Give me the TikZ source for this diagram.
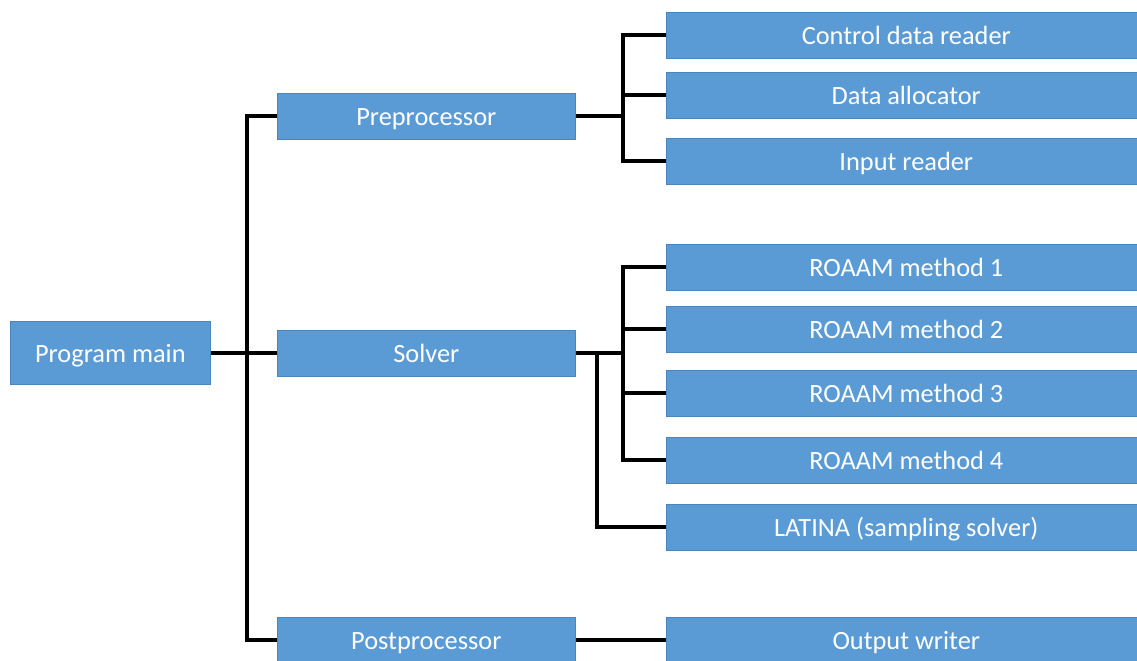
\documentclass[tikz,border=0pt]{standalone}
\usepackage{fontspec}
\setmainfont{Carlito}
\usetikzlibrary{positioning}
\definecolor{boxblue}{HTML}{5B9BD5}
\definecolor{boxline}{HTML}{4A86BE}
\tikzset{
    x=0.02cm, y=-0.02cm, % one unit is one pixel of the sketch
    block/.style={draw=boxline, fill=boxblue, text=white, inner sep=0pt, anchor=west,
        text height=11pt, text depth=0pt,
        font=\fontsize{15}{17}\selectfont}, % blue box with white text
    module/.style={block, minimum width=5.96cm, minimum height=0.92cm}, % second column
    routine/.style={block, minimum width=9.6cm, minimum height=0.92cm}, % third column
    link/.style={line width=2.2pt, black}, % the tree lines
}
\begin{document}
\begin{tikzpicture}
    \clip (0,0) rectangle (1137,660);
    \node[block, minimum width=4cm, minimum height=1.26cm] (main) at (10,353) {Program main};
    \node[module] (pre) at (277,116) {Preprocessor};
    \node[module] (solver) at (277,353) {Solver};
    \node[module] (post) at (277,640) {Postprocessor};
    \node[routine] (ctrl) at (666,35) {Control data reader};
    \node[routine] (alloc) at (666,95) {Data allocator};
    \node[routine] (input) at (666,161) {Input reader};
    \node[routine] (m1) at (666,267) {ROAAM method 1};
    \node[routine] (m2) at (666,329) {ROAAM method 2};
    \node[routine] (m3) at (666,393) {ROAAM method 3};
    \node[routine] (m4) at (666,460) {ROAAM method 4};
    \node[routine] (latina) at (666,527) {LATINA (sampling solver)};
    \node[routine] (out) at (666,640) {Output writer};
    \coordinate (trunk) at (247,353);
    \coordinate (prefork) at (623,116);
    \coordinate (solfork) at (623,353);
    \coordinate (latfork) at (597,353);
    \draw[link] (main.east) -- (solver.west);
    \draw[link] (pre.west) -| (trunk) |- (post.west);
    \draw[link] (pre.east) -- (prefork);
    \draw[link] (prefork) |- (ctrl.west);
    \draw[link] (prefork) |- (alloc.west);
    \draw[link] (prefork) |- (input.west);
    \draw[link] (solver.east) -- (solfork);
    \draw[link] (solfork) |- (m1.west);
    \draw[link] (solfork) |- (m2.west);
    \draw[link] (solfork) |- (m3.west);
    \draw[link] (solfork) |- (m4.west);
    \draw[link] (latfork) |- (latina.west);
    \draw[link] (post.east) -- (out.west);
\end{tikzpicture}
\end{document}
